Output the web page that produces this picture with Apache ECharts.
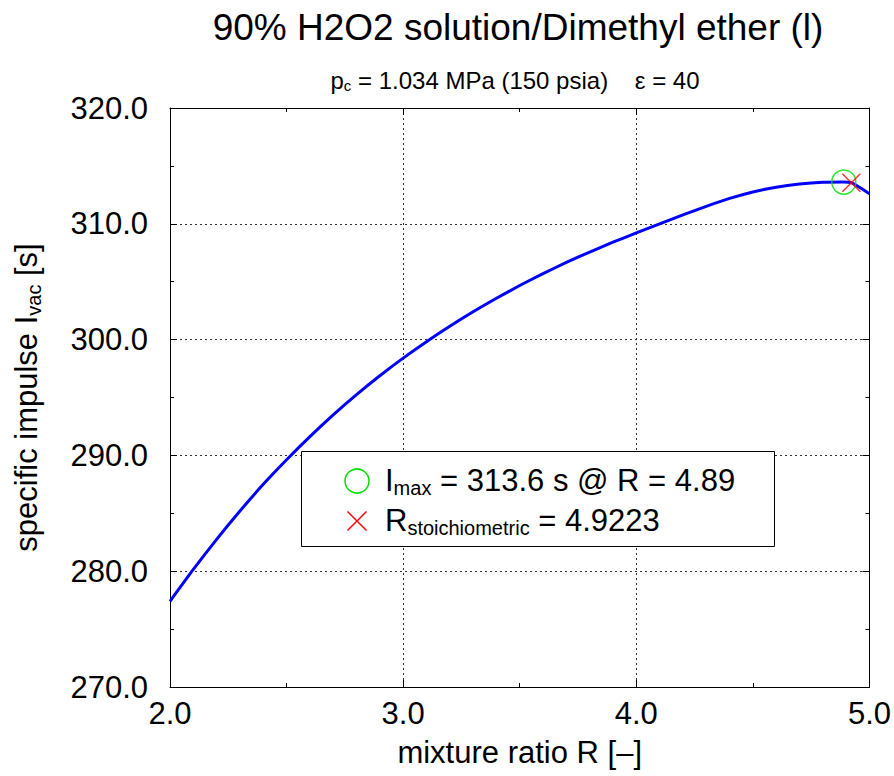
<!DOCTYPE html>
<html>
<head>
<meta charset="utf-8">
<script src="https://cdn.jsdelivr.net/npm/echarts@6/dist/echarts.min.js"></script>
<style>
html,body{margin:0;padding:0;background:#fff;}
#chart{width:894px;height:776px;}
</style>
</head>
<body>
<div id="chart"></div>
<script>
// mixture ratio R
var ratioR = [2.0, 2.1, 2.2, 2.3, 2.4, 2.5, 2.6, 2.7, 2.8, 2.9, 3.0, 3.1, 3.2, 3.3, 3.4, 3.5, 3.6, 3.7, 3.8, 3.9, 4.0, 4.1, 4.2, 4.3, 4.4, 4.5, 4.6, 4.7, 4.8, 4.89, 4.9223, 4.95, 5.0];
// vacuum specific impulse [s]
var ispVac = [277.4, 280.15, 282.75, 285.2, 287.5, 289.62, 291.62, 293.5, 295.25, 296.88, 298.4, 299.82, 301.15, 302.4, 303.57, 304.67, 305.7, 306.66, 307.56, 308.41, 309.21, 310.0, 310.77, 311.51, 312.19, 312.75, 313.16, 313.43, 313.58, 313.6, 313.55, 313.25, 312.6];
var imaxPoint = [4.89, 313.6];
var stoichPoint = [4.9223, 313.55];
var xTicks = [2.0, 3.0, 4.0, 5.0];
var yTicks = [270.0, 280.0, 290.0, 300.0, 310.0, 320.0];

var FONT = 'Liberation Sans, Arial, Helvetica, sans-serif';
var FS = 31;
var lineData = ratioR.map(function (r, i) { return [r, ispVac[i]]; });

var chart = echarts.init(document.getElementById('chart'), null, {renderer: 'svg'});

function axisCommon(show) {
  return {
    axisLine: {show: true, lineStyle: {color: '#000', width: 1}},
    axisTick: {show: true, inside: true, length: 7, lineStyle: {color: '#000'}},
    minorTick: {show: true, splitNumber: 2, length: 4, lineStyle: {color: '#000'}},
    axisLabel: {show: show, color: '#000', fontSize: FS, fontFamily: FONT,
      formatter: function (v) { return v.toFixed(1); }},
    splitLine: {show: show, lineStyle: {color: '#333', type: [2, 3], width: 1}}
  };
}

var xBottom = Object.assign(axisCommon(true), {
  type: 'value', position: 'bottom', min: xTicks[0], max: xTicks[xTicks.length - 1], interval: 1,
  name: 'mixture ratio R [–]', nameLocation: 'middle', nameGap: 50,
  nameTextStyle: {fontSize: FS, color: '#000', fontFamily: FONT}
});
xBottom.axisLabel.margin = 11;
var xTop = Object.assign(axisCommon(false), {
  type: 'value', position: 'top', min: xTicks[0], max: xTicks[xTicks.length - 1], interval: 1
});
var yLeft = Object.assign(axisCommon(true), {
  type: 'value', position: 'left', min: yTicks[0], max: yTicks[yTicks.length - 1], interval: 10,
  name: '{m|specific impulse I}{s|vac}{m| [s]}', nameLocation: 'middle', nameGap: 126, nameRotate: 90,
  nameTextStyle: {color: '#000', fontFamily: FONT, rich: {
    m: {fontSize: FS, color: '#000', fontFamily: FONT},
    s: {fontSize: 20, color: '#000', fontFamily: FONT, padding: [15, 0, 0, 0]}
  }}
});
yLeft.axisLabel.margin = 22;
var yRight = Object.assign(axisCommon(false), {
  type: 'value', position: 'right', min: yTicks[0], max: yTicks[yTicks.length - 1], interval: 10
});

var option = {
  backgroundColor: '#fff',
  animation: false,
  title: [
    {text: '90% H2O2 solution/Dimethyl ether (l)', left: 513, top: 4, textAlign: 'center',
     textStyle: {fontSize: 37, fontWeight: 'normal', color: '#000', fontFamily: FONT}},
    {text: '{m|p}{s|c}{m| = 1.034 MPa (150 psia)    ε = 40}', left: 510, top: 62, textAlign: 'center',
     textStyle: {fontSize: 24, fontWeight: 'normal', color: '#000', fontFamily: FONT, rich: {
       m: {fontSize: 24, color: '#000', fontFamily: FONT},
       s: {fontSize: 15, color: '#000', fontFamily: FONT, padding: [11, 0, 0, 0]}
     }}}
  ],
  grid: {left: 170, right: 24, top: 108, bottom: 89, containLabel: false},
  xAxis: [xBottom, xTop],
  yAxis: [yLeft, yRight],
  series: [
    {type: 'line', name: 'Ivac', data: lineData, showSymbol: false, smooth: 0.2,
     lineStyle: {color: '#0000ff', width: 3}, itemStyle: {color: '#0000ff'}, z: 3},
    {type: 'scatter', name: 'Imax', data: [imaxPoint], symbol: 'circle', symbolSize: 24,
     itemStyle: {color: 'transparent', borderColor: '#00e000', borderWidth: 1.5}, z: 4},
    {type: 'scatter', name: 'Rstoich', data: [stoichPoint], symbol: 'path://M0,0L10,10M10,0L0,10', symbolSize: 18,
     itemStyle: {color: 'transparent', borderColor: '#ff0000', borderWidth: 1.5}, z: 5}
  ],
  graphic: [
    {type: 'rect', shape: {x: 301.5, y: 451.5, width: 473, height: 95},
     style: {fill: '#fff', stroke: '#000', lineWidth: 1}, z: 100},
    {type: 'circle', shape: {cx: 357, cy: 481, r: 12},
     style: {fill: 'transparent', stroke: '#00e000', lineWidth: 1.5}, z: 101},
    {type: 'polyline', shape: {points: [[347.5, 511.5], [366.5, 530.5]]},
     style: {stroke: '#ff0000', lineWidth: 1.5, fill: null}, z: 101},
    {type: 'polyline', shape: {points: [[366.5, 511.5], [347.5, 530.5]]},
     style: {stroke: '#ff0000', lineWidth: 1.5, fill: null}, z: 101},
    {type: 'text', x: 385, y: 480, z: 101,
     style: {text: '{m|I}{s|max}{m| = 313.6 s @ R = 4.89}', verticalAlign: 'middle', fill: '#000',
       rich: {m: {fontSize: FS, fontFamily: FONT, fill: '#000'},
              s: {fontSize: 20, fontFamily: FONT, fill: '#000', padding: [16, 0, 0, 0]}}}},
    {type: 'text', x: 385, y: 520, z: 101,
     style: {text: '{m|R}{s|stoichiometric}{m| = 4.9223}', verticalAlign: 'middle', fill: '#000',
       rich: {m: {fontSize: FS, fontFamily: FONT, fill: '#000'},
              s: {fontSize: 20, fontFamily: FONT, fill: '#000', padding: [16, 0, 0, 0]}}}}
  ]
};
chart.setOption(option);
</script>
</body>
</html>
